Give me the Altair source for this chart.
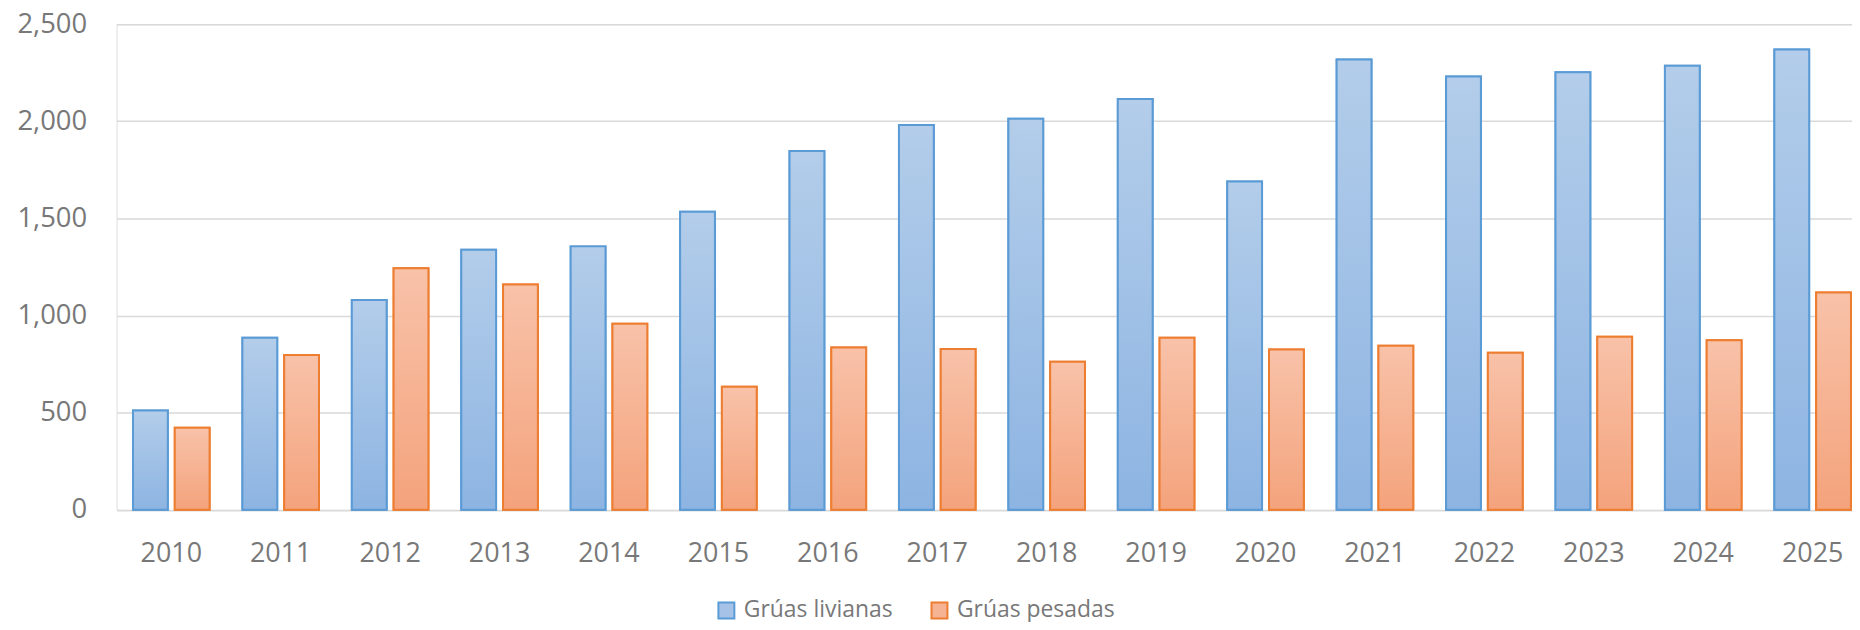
import altair as alt
import pandas as pd

years = [str(y) for y in range(2010, 2026)]
series = ["Grúas livianas", "Grúas pesadas"]
livianas = [511, 885, 1080, 1339, 1356, 1534, 1847, 1981, 2013, 2115, 1690, 2319, 2231, 2253, 2286, 2370]
pesadas = [422, 797, 1243, 1160, 957, 633, 835, 828, 762, 886, 825, 844, 808, 891, 872, 1119]
y_ticks = [0, 500, 1000, 1500, 2000, 2500]

rows = []
for i, y in enumerate(years):
    rows.append({"year": y, "serie": series[0], "value": livianas[i]})
    rows.append({"year": y, "serie": series[1], "value": pesadas[i]})
df = pd.DataFrame(rows)

FONT = "Open Sans"
TXT = "#787878"
blue_stroke = "#5b9bd5"
orange_stroke = "#ed7d31"

grad_blue = alt.Gradient(
    gradient="linear",
    stops=[alt.GradientStop(color="#b3cdea", offset=0), alt.GradientStop(color="#8db4e2", offset=1)],
    x1=0, x2=0, y1=0, y2=1,
)
grad_orange = alt.Gradient(
    gradient="linear",
    stops=[alt.GradientStop(color="#f8c2a9", offset=0), alt.GradientStop(color="#f4a37c", offset=1)],
    x1=0, x2=0, y1=0, y2=1,
)

base = alt.Chart(df).encode(
    x=alt.X(
        "year:N",
        sort=years,
        scale=alt.Scale(paddingInner=0.3, paddingOuter=0.08, align=0.94),
        axis=alt.Axis(
            title=None, labelAngle=0, ticks=False, tickSize=0, domain=False, grid=False,
            labelFont=FONT, labelFontSize=27, labelColor=TXT, labelPadding=31,
        ),
    ),
    xOffset=alt.XOffset("serie:N", sort=series,
                        scale=alt.Scale(domain=series, paddingInner=0.1667, paddingOuter=0)),
    y=alt.Y(
        "value:Q",
        scale=alt.Scale(domain=[0, 2500], nice=False),
        axis=alt.Axis(
            title=None, values=y_ticks, format=",.0f",
            ticks=False, tickSize=0, domain=False, grid=True,
            gridColor="#d9d9d9", gridWidth=1.5,
            labelFont=FONT, labelFontSize=27.5, labelColor=TXT, labelPadding=30,
        ),
    ),
)

legend = alt.Legend(
    title=None, orient="none", direction="horizontal", legendX=601, legendY=577,
    symbolType="square", symbolSize=256, symbolStrokeWidth=2,
    labelFont=FONT, labelFontSize=23, labelColor=TXT, labelOffset=6,
    columnPadding=34, padding=0, symbolOpacity=1,
)

legend_layer = base.mark_bar(strokeWidth=2).encode(
    fill=alt.Fill("serie:N", sort=series,
                  scale=alt.Scale(domain=series, range=["#a6c3e7", "#f6b394"]), legend=legend),
    stroke=alt.Stroke("serie:N", sort=series,
                      scale=alt.Scale(domain=series, range=[blue_stroke, orange_stroke]), legend=legend),
)

blue_layer = base.transform_filter(alt.datum.serie == series[0]).mark_bar(
    fill=grad_blue, stroke=blue_stroke, strokeWidth=2
)
orange_layer = base.transform_filter(alt.datum.serie == series[1]).mark_bar(
    fill=grad_orange, stroke=orange_stroke, strokeWidth=2
)

chart = (
    alt.layer(legend_layer, blue_layer, orange_layer)
    .properties(
        width=1743, height=487.5,
        autosize=alt.AutoSizeParams(type="none"),
        padding={"left": 109, "top": 15, "right": 0, "bottom": 111.5},
    )
    .configure_view(stroke=None)
    .configure(background="white")
)

chart.save("out.html", embed_options={"renderer": "svg", "actions": False})
